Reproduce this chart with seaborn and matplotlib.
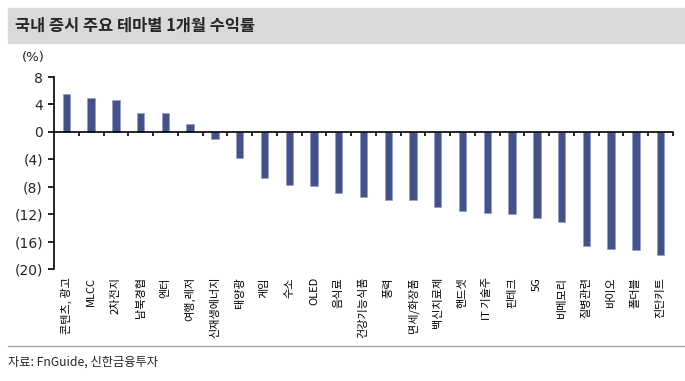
import matplotlib
matplotlib.use("Agg")
import matplotlib.pyplot as plt
import matplotlib.transforms as mtransforms
import seaborn as sns
import pandas as pd
import numpy as np

categories = ["콘텐츠, 광고", "MLCC", "2차전지", "남북경협", "엔터", "여행,레저", "신재생에너지",
              "태양광", "게임", "수소", "OLED", "음식료", "건강기능식품", "풍력", "면세/화장품",
              "백신치료제", "핸드셋", "IT 기술주", "핀테크", "5G", "비메모리", "질병관련", "바이오",
              "폴더블", "진단키트"]
returns = [5.5, 5.0, 4.6, 2.8, 2.8, 1.2, -1.1, -3.8, -6.8, -7.7, -7.9, -8.9, -9.55, -10.0,
           -10.0, -10.9, -11.6, -11.85, -12.05, -12.5, -13.2, -16.6, -17.05, -17.3, -18.0]
yticks = [8, 4, 0, -4, -8, -12, -16, -20]
ytick_labels = ["8", "4", "0", "(4)", "(8)", "(12)", "(16)", "(20)"]

title = "국내 증시 주요 테마별 1개월 수익률"
source = "자료: FnGuide, 신한금융투자"

sns.set_theme(style="white")
plt.rcParams['font.family'] = ['Noto Sans CJK KR', 'DejaVu Sans']

df = pd.DataFrame({"cat": categories, "val": returns})

fig = plt.figure(figsize=(6.85, 3.81), dpi=100)
ax = fig.add_axes([54/685, 1-269/381, (673-54)/685, (269-77)/381])

sns.barplot(data=df, x="cat", y="val", color="#44528A", width=0.3, ax=ax,
            saturation=1, edgecolor="#8f9bc8", linewidth=0.4)

ax.set_xlim(-0.5, len(categories)-0.5)
ax.set_ylim(-20, 8)
ax.set_xlabel("")
ax.set_ylabel("")

for s in ["top", "right"]:
    ax.spines[s].set_visible(False)
ax.spines["left"].set_color("black")
ax.spines["left"].set_linewidth(1.2)
ax.spines["bottom"].set_position(("data", 0))
ax.spines["bottom"].set_color("black")
ax.spines["bottom"].set_linewidth(1.2)

ax.set_yticks(yticks)
ax.set_yticklabels(ytick_labels, fontsize=10, family=['DejaVu Sans'])
ax.tick_params(axis="y", direction="out", length=4, width=1.2, color="black", pad=4, left=True)

ax.set_xticks(np.arange(len(categories)) + 0.5)
ax.set_xticklabels([])
ax.tick_params(axis="x", direction="out", length=3, width=1.2, color="black", bottom=True)

trans = mtransforms.blended_transform_factory(ax.transData, fig.transFigure)
for i, c in enumerate(categories):
    ax.text(i, 1-277/381, c, rotation=90, ha="center", va="top", fontsize=8,
            transform=trans, color="black")

# title band
fig.patches.append(plt.Rectangle((8/685, 1-43/381), 1-8/685, 35/381,
                                 transform=fig.transFigure, color="#d9d9d9", zorder=0))
fig.text(15/685, 1-26/381, title, fontsize=11.8, fontweight="bold", va="center", ha="left")
fig.text(22/685, 1-58/381, "(%)", fontsize=9.5, va="center", ha="left", family=['DejaVu Sans'])

# bottom rule
fig.add_artist(plt.Line2D([8/685, 1], [1-346/381, 1-346/381], transform=fig.transFigure,
                          color="#a6a6a6", linewidth=1))
fig.text(8/685, 1-362/381, source, fontsize=8.8, va="center", ha="left")

fig.savefig("out.png", dpi=100)
